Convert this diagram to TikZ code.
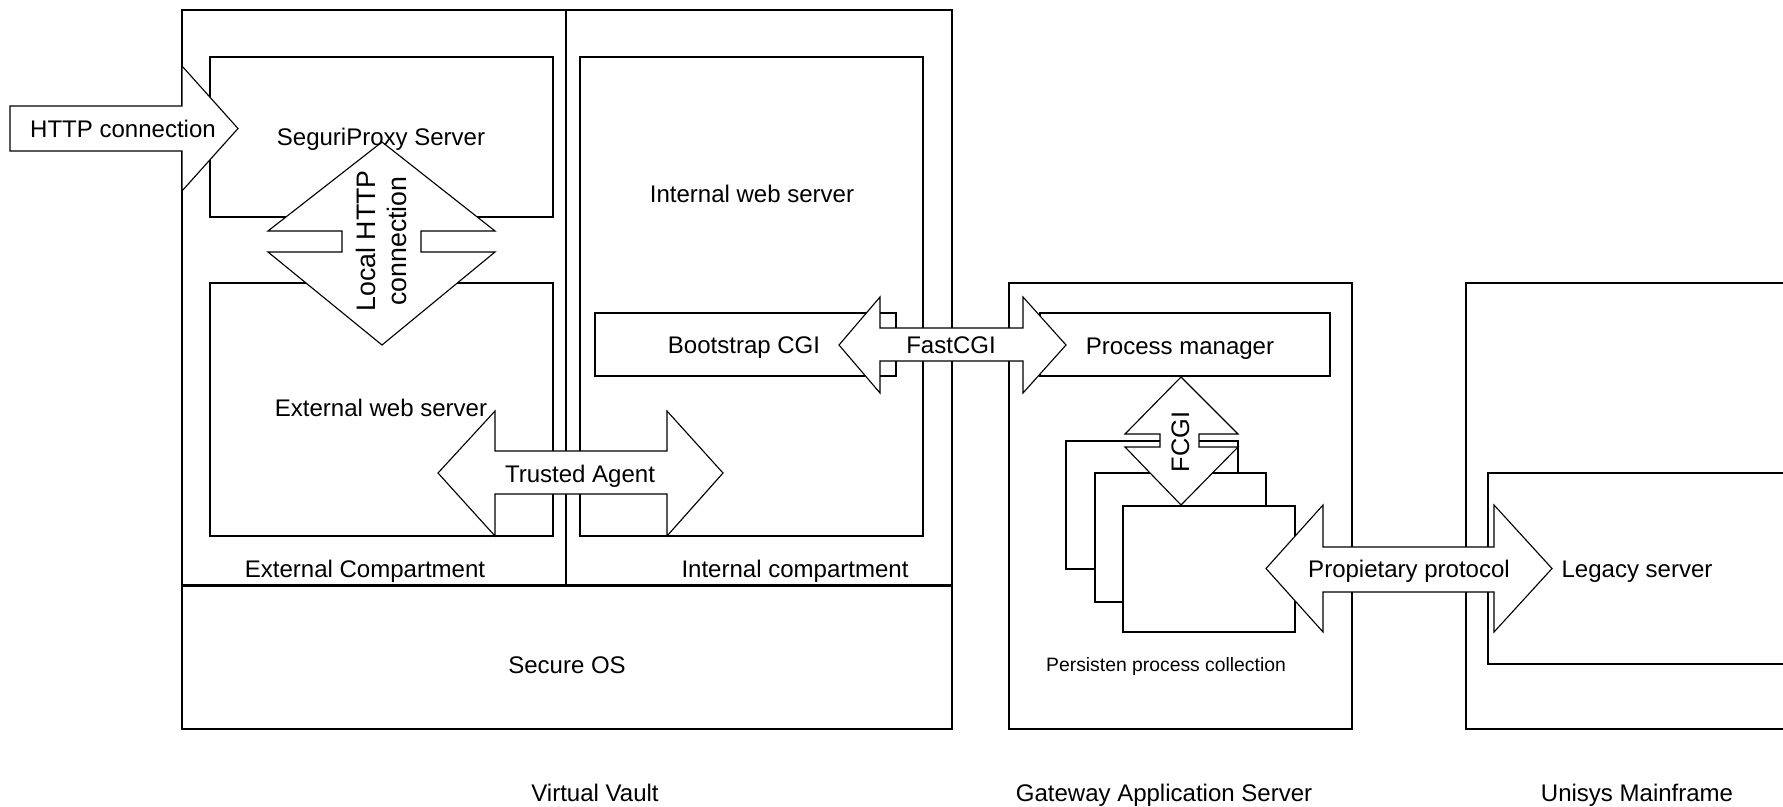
\documentclass[tikz,border=0pt]{standalone}
\usepackage{fontspec}
\setmainfont{Liberation Sans}
\begin{document}
\begin{tikzpicture}[x=0.01cm,y=-0.01cm,
  box/.style={draw=black,line width=0.4pt},
  blockarrow/.style={draw=black,fill=white,line width=0.32pt,line join=miter},
  lbl/.style={font=\fontsize{6.83pt}{8pt}\selectfont,inner sep=0pt,anchor=base},
  small/.style={font=\fontsize{5.5pt}{6.5pt}\selectfont,inner sep=0pt,anchor=base},
  rot/.style={font=\fontsize{7.6pt}{8.8pt}\selectfont,inner sep=0pt,rotate=90,align=center}]
\useasboundingbox (0,0) rectangle (1783,806);
% Virtual Vault
\draw[box] (182,10) rectangle (952,729);
\draw[box] (566,10) -- (566,585);
\draw[black,line width=0.85pt] (182,585) -- (952,585);
\draw[box] (210,57) rectangle (553,217);
\draw[box] (210,283) rectangle (553,536);
\draw[box] (580,57) rectangle (923,536);
\draw[box] (595,313) rectangle (896,376);
% Gateway
\draw[box] (1009,283) rectangle (1352,729);
\draw[box] (1040,313) rectangle (1330,376);
\draw[box,fill=white] (1066,441) rectangle (1238,569);
\draw[box,fill=white] (1095,473) rectangle (1266,602);
\draw[box,fill=white] (1123,506) rectangle (1295,632);
% Unisys
\draw[box] (1783,283) -- (1466,283) -- (1466,729) -- (1783,729);
\draw[box] (1783,473) -- (1488,473) -- (1488,664) -- (1783,664);
% block arrows
\draw[blockarrow] (10,106) -- (182,106) -- (182,66) -- (238,128.5) -- (182,191) -- (182,151) -- (10,151) -- cycle;
\draw[blockarrow] (382,142) -- (495,231) -- (421,231) -- (421,252) -- (495,252) -- (382,345) -- (268,252) -- (342,252) -- (342,231) -- (268,231) -- cycle;
\draw[blockarrow] (438,473) -- (495,411) -- (495,451) -- (667,451) -- (667,411) -- (723,473) -- (667,536) -- (667,494) -- (495,494) -- (495,536) -- cycle;
\draw[blockarrow] (839,345) -- (880,297) -- (880,328) -- (1023,328) -- (1023,297) -- (1066,345) -- (1023,393) -- (1023,361) -- (880,361) -- (880,393) -- cycle;
\draw[blockarrow] (1181,377) -- (1238,434) -- (1199,434) -- (1199,447) -- (1238,447) -- (1181,505) -- (1125,447) -- (1160,447) -- (1160,434) -- (1125,434) -- cycle;
\draw[blockarrow] (1266,568.5) -- (1323,505) -- (1323,547) -- (1494,547) -- (1494,505) -- (1552,568.5) -- (1494,632) -- (1494,592) -- (1323,592) -- (1323,632) -- cycle;
% labels
\node[lbl] (http) at (123,137) {HTTP connection};
\node[lbl] (proxy) at (381,145) {SeguriProxy Server};
\node[lbl] (extweb) at (381,416) {External web server};
\node[lbl] (intweb) at (752,202) {Internal web server};
\node[lbl] (boot) at (744,353) {Bootstrap CGI};
\node[lbl] (fast) at (951,353) {FastCGI};
\node[lbl] (trusted) at (580,482) {Trusted Agent};
\node[lbl] (pm) at (1180,354) {Process manager};
\node[lbl] (extc) at (365,577) {External Compartment};
\node[lbl] (intc) at (795,577) {Internal compartment};
\node[lbl] (sos) at (567,673) {Secure OS};
\node[lbl] (vv) at (595,801) {Virtual Vault};
\node[lbl] (gas) at (1164,801) {Gateway Application Server};
\node[lbl] (um) at (1637,801) {Unisys Mainframe};
\node[lbl] (prop) at (1409,577) {Propietary protocol};
\node[lbl] (legacy) at (1637,577) {Legacy server};
\node[small] (ppc) at (1166,671) {Persisten process collection};
\node[rot] (local) at (381,241) {Local HTTP\\connection};
\node[rot,font=\fontsize{7.2pt}{8pt}\selectfont] (fcgi) at (1180.5,442) {FCGI};
\end{tikzpicture}
\end{document}
